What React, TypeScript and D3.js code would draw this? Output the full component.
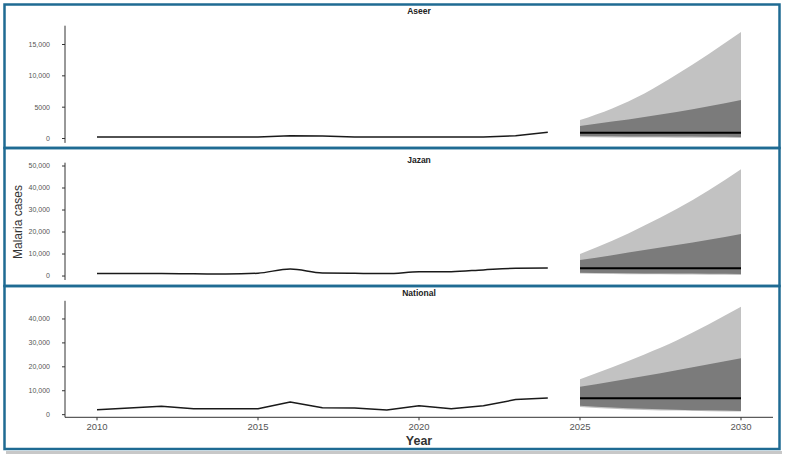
import React from "react";
import * as d3 from "d3";

const years = [2010, 2011, 2012, 2013, 2014, 2015, 2016, 2017, 2018, 2019, 2020, 2021, 2022, 2023, 2024];
const aseerHist = [240, 240, 240, 240, 240, 240, 450, 420, 240, 240, 240, 240, 250, 450, 1000];
const jazanHist = [1100, 1100, 1100, 1000, 900, 1300, 3200, 1400, 1300, 1100, 1900, 2000, 2800, 3500, 3600];
const nationalHist = [2100, 2800, 3500, 2500, 2500, 2500, 5300, 2900, 2800, 2000, 3750, 2500, 3750, 6300, 7000];

const fcYears = [2025, 2026, 2027, 2028, 2029, 2030];
const aseerLo95 = [200, 180, 160, 140, 120, 100];
const aseerLo80 = [420, 380, 340, 310, 280, 250];
const aseerMed = [900, 900, 900, 900, 900, 900];
const aseerHi80 = [2000, 2700, 3450, 4250, 5150, 6150];
const aseerHi95 = [2950, 4800, 7200, 10200, 13500, 17000];

const jazanLo95 = [1100, 900, 800, 700, 600, 500];
const jazanLo80 = [1500, 1350, 1200, 1100, 1000, 900];
const jazanMed = [3500, 3500, 3500, 3500, 3500, 3500];
const jazanHi80 = [7300, 9500, 11800, 14100, 16500, 19100];
const jazanHi95 = [10000, 16000, 23000, 30500, 39000, 48500];

const natLo95 = [3200, 2500, 2000, 1700, 1450, 1300];
const natLo80 = [3750, 3000, 2500, 2100, 1800, 1550];
const natMed = [6850, 6850, 6850, 6850, 6850, 6850];
const natHi80 = [11700, 13900, 16200, 18600, 21100, 23600];
const natHi95 = [14800, 19800, 25200, 31000, 37800, 45100];

const aseerTicks = [0, 5000, 10000, 15000];
const aseerTickLabels = ["0", "5000", "10,000", "15,000"];
const jazanTicks = [0, 10000, 20000, 30000, 40000, 50000];
const jazanTickLabels = ["0", "10,000", "20,000", "30,000", "40,000", "50,000"];
const natTicks = [0, 10000, 20000, 30000, 40000];
const natTickLabels = ["0", "10,000", "20,000", "30,000", "40,000"];
const xTicks = [2010, 2015, 2020, 2025, 2030];

const panels = [
  { name: "Aseer", hist: aseerHist, lo95: aseerLo95, lo80: aseerLo80, med: aseerMed, hi80: aseerHi80, hi95: aseerHi95,
    ticks: aseerTicks, labels: aseerTickLabels, domain: [-700, 18000], range: [142.9, 25.7], titleY: 14, boxTop: 4.5, boxBottom: 148, smooth: false },
  { name: "Jazan", hist: jazanHist, lo95: jazanLo95, lo80: jazanLo80, med: jazanMed, hi80: jazanHi80, hi95: jazanHi95,
    ticks: jazanTicks, labels: jazanTickLabels, domain: [-1800, 51500], range: [280, 162.7], titleY: 163, boxTop: 148, boxBottom: 286, smooth: true },
  { name: "National", hist: nationalHist, lo95: natLo95, lo80: natLo80, med: natMed, hi80: natHi80, hi95: natHi95,
    ticks: natTicks, labels: natTickLabels, domain: [-1100, 47600], range: [417.3, 300.8], titleY: 296, boxTop: 286, boxBottom: 449, smooth: false },
];

const W = 787;
const H = 458;
const FONT = "'Liberation Sans', Arial, sans-serif";

export default function App() {
  const x = d3.scaleLinear().domain([2010, 2030]).range([97, 741]);
  const axisLeft = 65;
  const axisRight = 773;

  return (
    <div style={{ position: "absolute", left: 0, top: 0 }}>
      <svg width={W} height={H} style={{ display: "block", background: "#fff" }}>
        <rect x={6} y={451} width={776} height={3} fill="#c8c8c8" />
        {panels.map((p, i) => {
          const y = d3.scaleLinear().domain(p.domain).range(p.range);
          const histLine = d3.line<number>().x((_, j) => x(years[j])).y((d) => y(d))
            .curve(p.smooth ? d3.curveMonotoneX : d3.curveLinear);
          const band95 = d3.area<number>()
            .x((_, j) => x(fcYears[j]))
            .y0((_, j) => y(p.lo95[j]))
            .y1((d) => y(d))
            .curve(d3.curveMonotoneX);
          const band80 = d3.area<number>()
            .x((_, j) => x(fcYears[j]))
            .y0((_, j) => y(p.lo80[j]))
            .y1((d) => y(d))
            .curve(d3.curveMonotoneX);
          const medLine = d3.line<number>().x((_, j) => x(fcYears[j])).y((d) => y(d));
          return (
            <g key={p.name}>
              <path d={band95(p.hi95) || ""} fill="#c2c2c2" />
              <path d={band80(p.hi80) || ""} fill="#7b7b7b" />
              <path d={medLine(p.med) || ""} fill="none" stroke="#000" strokeWidth={2} />
              <path d={histLine(p.hist) || ""} fill="none" stroke="#1a1a1a" strokeWidth={1.5} strokeLinejoin="round" />
              <line x1={axisLeft} x2={axisLeft} y1={p.range[0]} y2={p.range[1]} stroke="#333" strokeWidth={1} />
              {p.ticks.map((t, k) => (
                <g key={t}>
                  <line x1={axisLeft - 3} x2={axisLeft} y1={y(t)} y2={y(t)} stroke="#333" strokeWidth={1} />
                  <text x={50} y={y(t)} dy="0.35em" textAnchor="end" fontFamily={FONT} fontSize={7} fill="#555">
                    {p.labels[k]}
                  </text>
                </g>
              ))}
              <text x={419} y={p.titleY} textAnchor="middle" fontFamily={FONT} fontSize={8.5} fontWeight="bold" fill="#222">
                {p.name}
              </text>
              {i === 2 && (
                <g>
                  <line x1={axisLeft} x2={axisRight} y1={p.range[0]} y2={p.range[0]} stroke="#333" strokeWidth={1} />
                  {xTicks.map((t) => (
                    <g key={t}>
                      <line x1={x(t)} x2={x(t)} y1={p.range[0]} y2={p.range[0] + 3} stroke="#333" strokeWidth={1} />
                      <text x={x(t)} y={430} textAnchor="middle" fontFamily={FONT} fontSize={9.5} fill="#555">
                        {t}
                      </text>
                    </g>
                  ))}
                </g>
              )}
            </g>
          );
        })}
        <text x={419} y={445} textAnchor="middle" fontFamily={FONT} fontSize={12.5} fontWeight="bold" fill="#333">
          Year
        </text>
        <text
          transform="translate(22,222) rotate(-90)"
          textAnchor="middle"
          fontFamily="'Liberation Sans Narrow', 'Liberation Sans', Arial, sans-serif"
          fontSize={12}
          fill="#333"
        >
          Malaria cases
        </text>
        {panels.map((p) => (
          <rect key={"f" + p.name} x={4.5} y={p.boxTop} width={775} height={p.boxBottom - p.boxTop}
            fill="none" stroke="#1f6b93" strokeWidth={2.5} />
        ))}
      </svg>
    </div>
  );
}
